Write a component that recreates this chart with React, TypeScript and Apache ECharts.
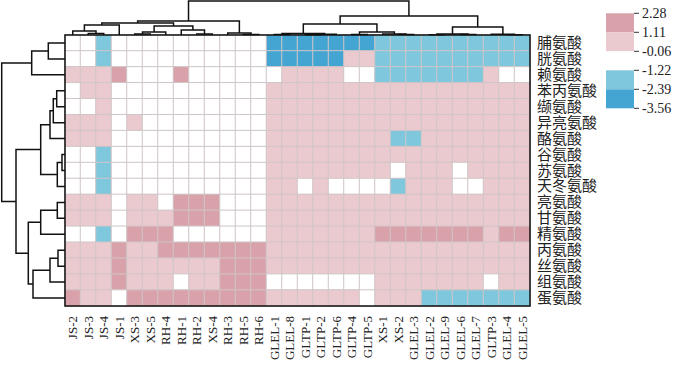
import React, { useEffect, useRef } from "react";
import * as echarts from "echarts";

const colLabels = ["JS-2","JS-3","JS-4","JS-1","XS-3","XS-5","RH-4","RH-1","RH-2","XS-4","RH-3","RH-5","RH-6","GLEL-1","GLEL-8","GLTP-1","GLTP-2","GLTP-6","GLTP-4","GLTP-5","XS-1","XS-2","GLEL-3","GLEL-2","GLEL-9","GLEL-6","GLEL-7","GLTP-3","GLEL-4","GLEL-5"];
const rowLabels = ["脯氨酸","胱氨酸","赖氨酸","苯丙氨酸","缬氨酸","异亮氨酸","酪氨酸","谷氨酸","苏氨酸","天冬氨酸","亮氨酸","甘氨酸","精氨酸","丙氨酸","丝氨酸","组氨酸","蛋氨酸"];
const legendTicks = [2.28, 1.11, -0.06, -1.22, -2.39, -3.56];
const bandColors = ["#d9a1a9", "#eacace", "#ffffff", "#7fc7dc", "#45a5d2"];

// z-scores per row (amino acid), columns in colLabels order
const values: number[][] = [
  [-0.6,-0.6,-1.8,-0.6,-0.6,-0.6,-0.6,-0.6,-0.6,-0.6,-0.6,-0.6,-0.6,-3.0,-3.0,-3.0,-3.0,-3.0,-3.0,-3.0,-1.8,-1.8,-1.8,-1.8,-1.8,-1.8,-1.8,-1.8,-1.8,-1.8],
  [-0.6,-0.6,-1.8,-0.6,-0.6,-0.6,-0.6,-0.6,-0.6,-0.6,-0.6,-0.6,-0.6,-3.0,-3.0,-3.0,-3.0,-3.0,0.5,0.5,-1.8,-1.8,-1.8,-1.8,-1.8,-1.8,-1.8,-1.8,-1.8,-1.8],
  [0.5,0.5,0.5,1.7,-0.6,-0.6,-0.6,1.7,-0.6,-0.6,-0.6,-0.6,-0.6,-0.6,0.5,0.5,0.5,0.5,-0.6,-0.6,-1.8,-1.8,-1.8,-1.8,-1.8,-1.8,-1.8,0.5,-0.6,-0.6],
  [-0.6,0.5,0.5,-0.6,-0.6,-0.6,-0.6,-0.6,-0.6,-0.6,-0.6,-0.6,-0.6,0.5,0.5,0.5,0.5,0.5,0.5,0.5,0.5,0.5,0.5,0.5,0.5,0.5,0.5,0.5,0.5,0.5],
  [-0.6,-0.6,0.5,-0.6,-0.6,-0.6,-0.6,-0.6,-0.6,-0.6,-0.6,-0.6,-0.6,0.5,0.5,0.5,0.5,0.5,0.5,0.5,0.5,0.5,0.5,0.5,0.5,0.5,0.5,0.5,0.5,0.5],
  [0.5,0.5,0.5,-0.6,0.5,-0.6,-0.6,-0.6,-0.6,-0.6,-0.6,-0.6,-0.6,0.5,0.5,0.5,0.5,0.5,0.5,0.5,0.5,0.5,0.5,0.5,0.5,0.5,0.5,0.5,0.5,0.5],
  [0.5,0.5,0.5,-0.6,-0.6,-0.6,-0.6,-0.6,-0.6,-0.6,-0.6,-0.6,-0.6,0.5,0.5,0.5,0.5,0.5,0.5,0.5,0.5,-1.8,-1.8,0.5,0.5,0.5,0.5,0.5,0.5,0.5],
  [-0.6,-0.6,-1.8,-0.6,-0.6,-0.6,-0.6,-0.6,-0.6,-0.6,-0.6,-0.6,-0.6,0.5,0.5,0.5,0.5,0.5,0.5,0.5,0.5,0.5,0.5,0.5,0.5,0.5,0.5,0.5,0.5,0.5],
  [-0.6,-0.6,-1.8,-0.6,-0.6,-0.6,-0.6,-0.6,-0.6,-0.6,-0.6,-0.6,-0.6,0.5,0.5,0.5,0.5,0.5,0.5,0.5,0.5,-0.6,0.5,0.5,0.5,-0.6,0.5,0.5,0.5,0.5],
  [-0.6,-0.6,-1.8,-0.6,-0.6,-0.6,-0.6,-0.6,-0.6,-0.6,-0.6,-0.6,-0.6,0.5,0.5,-0.6,0.5,-0.6,-0.6,-0.6,-0.6,-1.8,0.5,0.5,0.5,-0.6,-0.6,0.5,0.5,0.5],
  [0.5,0.5,0.5,-0.6,0.5,0.5,-0.6,1.7,1.7,1.7,-0.6,-0.6,-0.6,0.5,0.5,0.5,0.5,0.5,0.5,0.5,0.5,0.5,0.5,0.5,0.5,0.5,0.5,0.5,0.5,0.5],
  [0.5,0.5,0.5,-0.6,0.5,0.5,0.5,1.7,1.7,1.7,-0.6,-0.6,-0.6,0.5,0.5,0.5,0.5,0.5,0.5,0.5,0.5,0.5,0.5,0.5,0.5,0.5,0.5,0.5,0.5,0.5],
  [-0.6,-0.6,-1.8,-0.6,1.7,1.7,1.7,-0.6,-0.6,-0.6,-0.6,-0.6,-0.6,0.5,0.5,0.5,0.5,0.5,0.5,0.5,1.7,1.7,1.7,1.7,1.7,1.7,1.7,0.5,1.7,1.7],
  [0.5,0.5,0.5,1.7,0.5,0.5,1.7,1.7,1.7,1.7,1.7,1.7,1.7,0.5,0.5,0.5,0.5,0.5,0.5,0.5,0.5,0.5,0.5,0.5,0.5,0.5,0.5,0.5,0.5,0.5],
  [0.5,0.5,0.5,1.7,0.5,0.5,0.5,0.5,0.5,0.5,1.7,1.7,1.7,0.5,0.5,0.5,0.5,0.5,0.5,0.5,0.5,0.5,0.5,0.5,0.5,0.5,0.5,0.5,0.5,0.5],
  [0.5,0.5,0.5,1.7,0.5,0.5,0.5,-0.6,0.5,0.5,1.7,1.7,1.7,-0.6,-0.6,-0.6,-0.6,-0.6,-0.6,-0.6,0.5,0.5,0.5,0.5,0.5,0.5,0.5,-0.6,0.5,0.5],
  [1.7,0.5,0.5,-0.6,1.7,1.7,1.7,1.7,1.7,1.7,1.7,1.7,1.7,0.5,0.5,0.5,0.5,0.5,0.5,-0.6,0.5,0.5,0.5,-1.8,-1.8,-1.8,-1.8,-1.8,-1.8,-1.8],
];

// linkage: [childA, childB, height]; leaves 0..n-1 in display order, merges numbered n+k
const colMerges: number[][] = [
  [1,2,1.5],[0,30,4],[31,3,10],[4,5,1],[33,6,3],[8,9,1],[7,35,5],[34,36,9],[32,37,12],
  [11,12,0.5],[10,39,2],[38,40,14],
  [13,14,0.5],[15,16,0.3],[43,17,0.8],[42,44,1.5],[18,19,0.5],[21,22,0.5],[20,47,1],[46,48,3],[45,49,11],
  [23,24,0.3],[25,26,0.5],[51,52,1],[28,29,0.3],[27,54,0.8],[53,55,8],[50,56,19],[41,57,34],
];
const rowMerges: number[][] = [
  [0,1,16.7],[17,2,33.3],[3,4,8.3],[19,5,11.7],[20,6,15],[7,8,3],[22,9,7.7],[21,23,24.3],
  [10,11,7.7],[25,12,24.3],[13,14,7],[27,15,15],[28,16,32],[26,29,36.7],[24,30,49],[18,31,63.3],
];

function dendroSegments(merges: number[][], n: number) {
  const pos: number[] = [];
  const hgt: number[] = [];
  for (let i = 0; i < n; i++) { pos[i] = i + 0.5; hgt[i] = 0; }
  const segs: number[][] = [];
  merges.forEach(([a, b, h], k) => {
    segs.push([pos[a], hgt[a], pos[b], hgt[b], h]);
    pos[n + k] = (pos[a] + pos[b]) / 2;
    hgt[n + k] = h;
  });
  return segs;
}

const GL = 65, GT = 35, GW = 465, GH = 271;
const SERIF = "'Liberation Serif', 'Noto Sans CJK SC', serif";

export default function App() {
  const ref = useRef<HTMLDivElement>(null);
  useEffect(() => {
    const chart = echarts.init(ref.current!, null, { renderer: "svg" });
    const heat: number[][] = [];
    values.forEach((row, r) => row.forEach((v, c) => heat.push([c, r, v])));
    const colSegs = dendroSegments(colMerges, colLabels.length);
    const rowSegs = dendroSegments(rowMerges, rowLabels.length);
    const lineStyle = { color: "#111", width: 1.5, opacity: 1 };

    const legendG: any[] = [];
    const bandH = 19, lx = 606, ly = 13.3, lw = 28;
    bandColors.forEach((c, i) => {
      legendG.push({ type: "rect", shape: { x: lx, y: ly + i * bandH, width: lw, height: bandH }, style: { fill: c }, silent: true });
    });
    legendTicks.forEach((t, i) => {
      const y = ly + i * bandH;
      legendG.push({ type: "line", shape: { x1: lx + lw, y1: y, x2: lx + lw + 5, y2: y }, style: { stroke: "#333", lineWidth: 1 }, silent: true });
      legendG.push({ type: "text", x: lx + lw + 8, y, style: { text: t.toFixed(2), fill: "#222", font: "14px 'Liberation Serif', serif", textAlign: "left", textVerticalAlign: "middle", align: "left", verticalAlign: "middle" }, silent: true });
    });

    const option: any = {
      animation: false,
      grid: [
        { left: GL, top: GT, width: GW, height: GH },
        { left: GL, top: 0, width: GW, height: GT },
        { left: 0, top: GT, width: GL, height: GH },
      ],
      xAxis: [
        { type: "category", gridIndex: 0, data: colLabels, position: "bottom", axisLine: { show: false }, axisTick: { show: false }, splitLine: { show: false },
          axisLabel: { rotate: 90, interval: 0, margin: 10, fontSize: 13, fontFamily: SERIF, color: "#222" } },
        { type: "value", gridIndex: 1, min: 0, max: colLabels.length, show: false },
        { type: "value", gridIndex: 2, min: 0, max: GL, inverse: true, show: false },
      ],
      yAxis: [
        { type: "category", gridIndex: 0, data: rowLabels, inverse: true, position: "right", axisLine: { show: false }, axisTick: { show: false }, splitLine: { show: false },
          axisLabel: { interval: 0, margin: 7, fontSize: 15, fontFamily: SERIF, color: "#222" } },
        { type: "value", gridIndex: 1, min: 0, max: GT, show: false },
        { type: "value", gridIndex: 2, min: 0, max: rowLabels.length, inverse: true, show: false },
      ],
      visualMap: {
        type: "piecewise", show: false, seriesIndex: 0, dimension: 2,
        pieces: bandColors.map((c, i) => ({ min: legendTicks[i + 1], max: legendTicks[i], color: c })),
      },
      series: [
        { type: "heatmap", xAxisIndex: 0, yAxisIndex: 0, data: heat, silent: true,
          itemStyle: { borderColor: "#cfc5c7", borderWidth: 1 } },
        { type: "lines", coordinateSystem: "cartesian2d", xAxisIndex: 1, yAxisIndex: 1, polyline: true, silent: true, lineStyle,
          data: colSegs.map((s) => ({ coords: [[s[0], s[1]], [s[0], s[4]], [s[2], s[4]], [s[2], s[3]]] })) },
        { type: "lines", coordinateSystem: "cartesian2d", xAxisIndex: 2, yAxisIndex: 2, polyline: true, silent: true, lineStyle,
          data: rowSegs.map((s) => ({ coords: [[s[1], s[0]], [s[4], s[0]], [s[4], s[2]], [s[3], s[2]]] })) },
      ],
      graphic: [
        { type: "rect", shape: { x: GL, y: GT, width: GW, height: GH }, style: { fill: "none", stroke: "#111", lineWidth: 1.5 }, z: 100, silent: true },
        ...legendG,
      ],
    };
    chart.setOption(option);
    return () => chart.dispose();
  }, []);
  return <div ref={ref} style={{ position: "absolute", left: 0, top: 0, width: 678, height: 368 }} />;
}
